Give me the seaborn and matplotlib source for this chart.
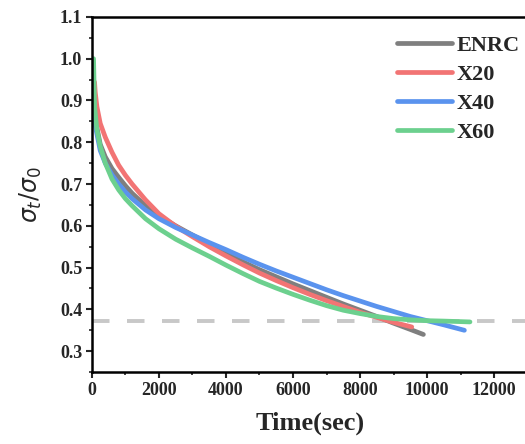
import numpy as np
import pandas as pd
import matplotlib
matplotlib.use("Agg")
import matplotlib.pyplot as plt
import seaborn as sns
from matplotlib.ticker import MultipleLocator

# ---- data ----
enrc_t = [40, 100, 250, 400, 600, 800, 1000, 1200, 1600, 2000, 2500, 3000, 3500, 4000, 4500, 5000, 5500, 6000, 6500, 7000, 7500, 8000, 8500, 9000, 9500, 9890]
enrc_v = [0.93, 0.855, 0.795, 0.765, 0.737, 0.716, 0.696, 0.678, 0.648, 0.624, 0.600, 0.578, 0.556, 0.534, 0.514, 0.495, 0.478, 0.461, 0.445, 0.429, 0.413, 0.398, 0.383, 0.367, 0.352, 0.340]

x20_t = [80, 100, 150, 250, 400, 600, 800, 1000, 1200, 1600, 2000, 2500, 3000, 3500, 4000, 4500, 5000, 5500, 6000, 6500, 7000, 7500, 8000, 8500, 9000, 9543]
x20_v = [0.944, 0.92, 0.885, 0.845, 0.812, 0.776, 0.745, 0.721, 0.700, 0.662, 0.629, 0.599, 0.574, 0.550, 0.528, 0.507, 0.487, 0.469, 0.452, 0.436, 0.421, 0.407, 0.393, 0.381, 0.369, 0.358]

x40_t = [40, 100, 250, 400, 600, 800, 1000, 1200, 1600, 2000, 2500, 3000, 3500, 4000, 4500, 5000, 5500, 6000, 6500, 7000, 7500, 8000, 8500, 9000, 9500, 10000, 10500, 11113]
x40_v = [0.92, 0.840, 0.780, 0.750, 0.722, 0.700, 0.681, 0.665, 0.638, 0.617, 0.596, 0.578, 0.560, 0.543, 0.525, 0.508, 0.492, 0.477, 0.462, 0.447, 0.433, 0.420, 0.407, 0.395, 0.383, 0.373, 0.363, 0.350]

x60_t = [50, 80, 150, 250, 400, 600, 800, 1000, 1200, 1600, 2000, 2500, 3000, 3500, 4000, 4500, 5000, 5500, 6000, 6500, 7000, 7500, 8000, 8500, 9000, 9500, 10000, 10500, 11280]
x60_v = [1.00, 0.885, 0.830, 0.790, 0.750, 0.712, 0.686, 0.665, 0.648, 0.617, 0.593, 0.568, 0.547, 0.527, 0.506, 0.486, 0.467, 0.451, 0.436, 0.422, 0.409, 0.398, 0.390, 0.383, 0.378, 0.375, 0.373, 0.372, 0.370]

labels = ["ENRC", "X20", "X40", "X60"]
colors = ["#7F7F7F", "#F27474", "#5A93EE", "#6CD08E"]
ref_level = 0.372

x_ticks = [0, 2000, 4000, 6000, 8000, 10000, 12000]
y_ticks = [0.3, 0.4, 0.5, 0.6, 0.7, 0.8, 0.9, 1.0, 1.1]

frames = []
for lab, t, v in zip(labels, [enrc_t, x20_t, x40_t, x60_t], [enrc_v, x20_v, x40_v, x60_v]):
    frames.append(pd.DataFrame({"t": t, "v": v, "series": lab}))
df = pd.concat(frames, ignore_index=True)

sns.set_style("ticks")
plt.rcParams["font.family"] = ["Liberation Serif", "DejaVu Serif"]

fig = plt.figure(figsize=(5.25, 4.44), dpi=100)
ax = fig.add_axes([0.175, 0.162, 0.83, 0.800])

ax.axhline(ref_level, color="#C8C8C8", lw=2.8, ls=(0, (4.5, 4.5)), zorder=1)

sns.lineplot(data=df, x="t", y="v", hue="series", hue_order=labels,
             palette=dict(zip(labels, colors)), lw=3.4, sort=False,
             estimator=None, ax=ax, legend=False, zorder=2)
for ln in ax.lines[1:]:
    ln.set_solid_capstyle("round")
    ln.set_solid_joinstyle("round")

handles = [plt.Line2D([], [], color=c, lw=3.4, solid_capstyle="round") for c in colors]
leg = ax.legend(handles, labels, loc="upper right", bbox_to_anchor=(1.013, 0.985),
                frameon=False, handlelength=2.5, handletextpad=0.2,
                labelspacing=0.38, borderaxespad=0.2,
                prop={"family": "Liberation Serif", "weight": "bold", "size": 16})

ax.set_xlim(0, 13000)
ax.set_ylim(0.25, 1.1)
ax.set_xticks(x_ticks)
ax.set_yticks(y_ticks)
ax.set_yticklabels([f"{y:.1f}" for y in y_ticks])
ax.xaxis.set_minor_locator(MultipleLocator(1000))
ax.yaxis.set_minor_locator(MultipleLocator(0.05))

for lbl in ax.get_xticklabels() + ax.get_yticklabels():
    lbl.set_fontweight("bold")
    lbl.set_fontsize(13)

ax.tick_params(which="major", direction="out", length=4, width=1.5, pad=3)
ax.tick_params(which="minor", direction="out", length=2.5, width=1.2)
for s in ax.spines.values():
    s.set_linewidth(1.8)
    s.set_color("black")

ax.set_xlabel("Time(sec)", fontsize=19, fontweight="bold", labelpad=9)
ax.set_ylabel(r"$\sigma_t/\sigma_0$", fontsize=17, labelpad=11,
              fontfamily="DejaVu Sans")

fig.savefig("out.png", dpi=100)
